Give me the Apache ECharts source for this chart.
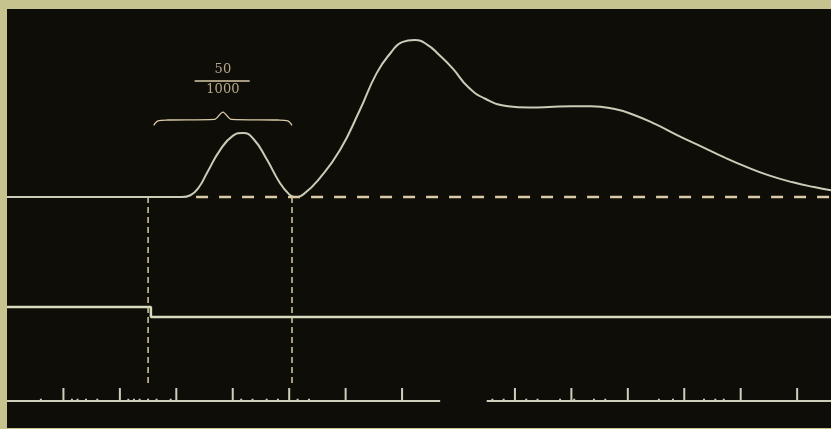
<!DOCTYPE html>
<html>
<head>
<meta charset="utf-8">
<script src="https://cdn.jsdelivr.net/npm/echarts@6/dist/echarts.min.js"></script>
<style>
  html, body { margin: 0; padding: 0; }
  body { width: 831px; height: 429px; background: #c7c38f; position: relative; overflow: hidden; }
  #chart { position: absolute; left: 7px; top: 9px; width: 824px; height: 419px; background: #0f0d07; }
</style>
</head>
<body>
<div id="chart"></div>
<script>
// Time in milliseconds (0 = stimulus onset); amplitudes in arbitrary units.
const tMin = -50, tMax = 242;

// Main myograph trace: [time, height]
const traceTime = [-50, 12, 15, 18, 21, 25.5, 30, 33.7, 37.5, 42, 46.5, 50, 52, 55, 61, 68, 75, 81,
  86, 90, 94.5, 99, 103, 108, 113.5, 119.5, 127.5, 135, 142, 150, 157, 165, 172, 180, 188,
  196.5, 204, 212, 220, 228.5, 236, 242];
const traceHeight = [0, 0, 1, 5.5, 14, 26.5, 34.5, 36.2, 32.5, 21.5, 8.5, 1.5, 0, 1.5, 11, 26.5, 49, 70,
  81.5, 87.5, 88.7, 86, 80.5, 72.5, 62, 55.5, 51.3, 50.6, 50.8, 51.3, 51.3, 49.8, 46.5, 41, 34.5,
  28.2, 22.5, 17, 12.2, 8.3, 5.6, 3.8];

// Dashed abscissa of the main trace
const baselineSpan = [17, 242];

// Vertical markers (ms)
const markerTimes = [0, 51];

// Signal (key) trace: level before / after the break
const signalTime = [-50, 1, 1, 242];
const signalLevel = [1, 1, 0, 0];

// Chronograph: 1/50 s marks, small vibration marks, and an interrupted stretch
const chronoMajor = [-30, -10, 10, 30, 50, 70, 90, 130, 150, 170, 190, 210, 230];
const chronoMinor = [-38, -27, -25, -22, -18, -7, -5, -3, 0, 3, 8, 33, 37, 42, 46, 53, 57,
  122, 126, 134, 138, 146, 151, 158, 162, 181, 186, 197, 201, 204];
const chronoSegments = [[-50, 103.5], [120, 242]];

// Annotation: 50/1000 s over the twitch
const braceSpan = [2, 51];
const fracTop = '50', fracBottom = '1000';

const lineColor = '#c9cdb8';
const paleColor = '#d9cba8';

const trace = traceTime.map((t, i) => [t, traceHeight[i]]);
const signal = signalTime.map((t, i) => [t, signalLevel[i]]);

// chronograph polyline built from the mark lists
const chrono = [];
chronoSegments.forEach((seg, si) => {
  if (si > 0) chrono.push([null, null]);
  const marks = [];
  chronoMajor.forEach(t => { if (t > seg[0] && t < seg[1]) marks.push([t, 1]); });
  chronoMinor.forEach(t => { if (t > seg[0] && t < seg[1]) marks.push([t, 0.18]); });
  marks.sort((a, b) => a[0] - b[0]);
  chrono.push([seg[0], 0]);
  marks.forEach(m => { chrono.push([m[0], 0], [m[0], m[1]], [m[0], 0]); });
  chrono.push([seg[1], 0]);
});

// curly brace over the twitch
const bMid = (braceSpan[0] + braceSpan[1]) / 2;
const braceLevel = 43.5;
const brace = [
  [braceSpan[0], braceLevel - 3], [braceSpan[0] + 1.5, braceLevel - 0.5], [braceSpan[0] + 5, braceLevel],
  [bMid - 3, braceLevel + 0.4], [bMid, braceLevel + 4.5], [bMid + 3, braceLevel + 0.4],
  [braceSpan[1] - 5, braceLevel], [braceSpan[1] - 1.5, braceLevel - 0.5], [braceSpan[1], braceLevel - 3]
];
const fracBar = [[bMid - 10, 65.5], [bMid + 9.5, 65.5]];

const xAx = i => ({ type: 'value', gridIndex: i, min: tMin, max: tMax, show: false });

const chart = echarts.init(document.getElementById('chart'), null, { renderer: 'canvas' });
chart.setOption({
  animation: false,
  backgroundColor: 'transparent',
  grid: [
    { left: 0, right: 0, top: 11, height: 177 },   // main trace
    { left: 0, right: 0, top: 288, height: 20 },   // signal
    { left: 0, right: 0, top: 379, height: 13 },   // chronograph
    { left: 0, right: 0, top: 188, height: 188 }   // markers
  ],
  xAxis: [xAx(0), xAx(1), xAx(2), xAx(3)],
  yAxis: [
    { type: 'value', gridIndex: 0, min: 0, max: 100, show: false },
    { type: 'value', gridIndex: 1, min: 0, max: 2, show: false },
    { type: 'value', gridIndex: 2, min: 0, max: 1, show: false },
    { type: 'value', gridIndex: 3, min: 0, max: 1, show: false }
  ],
  series: [
    {
      type: 'line', xAxisIndex: 0, yAxisIndex: 0, data: trace, smooth: 0.5,
      symbol: 'none', clip: false, lineStyle: { color: lineColor, width: 2 }
    },
    {
      type: 'line', xAxisIndex: 0, yAxisIndex: 0, symbol: 'none', clip: false,
      data: [[baselineSpan[0], 0], [baselineSpan[1], 0]],
      lineStyle: { color: paleColor, width: 2.5, type: [12, 11] }
    },
    {
      type: 'line', xAxisIndex: 0, yAxisIndex: 0, symbol: 'none', clip: false, smooth: 0.3,
      data: brace, lineStyle: { color: paleColor, width: 1.3 }
    },
    {
      type: 'line', xAxisIndex: 0, yAxisIndex: 0, symbol: 'none', clip: false,
      data: fracBar, lineStyle: { color: paleColor, width: 1.5 }
    },
    {
      type: 'scatter', xAxisIndex: 0, yAxisIndex: 0, symbolSize: 0, silent: true,
      data: [[bMid, 72, fracTop], [bMid, 60.5, fracBottom]],
      label: {
        show: true, position: 'inside', formatter: p => p.data[2],
        color: paleColor, fontFamily: 'DejaVu Serif', fontSize: 13
      }
    },
    {
      type: 'line', xAxisIndex: 1, yAxisIndex: 1, data: signal, symbol: 'none', clip: false,
      lineStyle: { color: '#d6dabf', width: 2.5 }
    },
    {
      type: 'line', xAxisIndex: 2, yAxisIndex: 2, data: chrono, symbol: 'none', clip: false,
      connectNulls: false, lineStyle: { color: '#cfcdbb', width: 2 }
    },
    ...markerTimes.map(t => ({
      type: 'line', xAxisIndex: 3, yAxisIndex: 3, symbol: 'none', clip: false,
      data: [[t, 1], [t, 0]], lineStyle: { color: paleColor, width: 1.5, type: [6, 4] }
    }))
  ]
});
</script>
</body>
</html>
